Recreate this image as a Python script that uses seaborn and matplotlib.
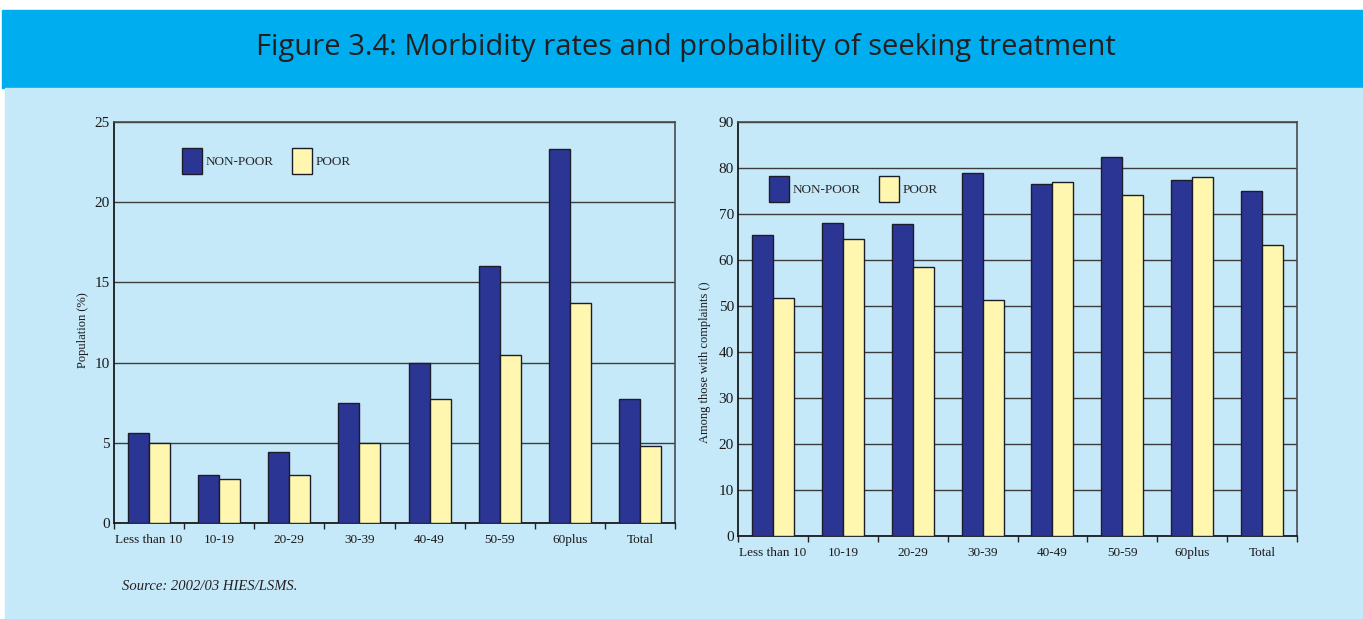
import numpy as np
import pandas as pd
import seaborn as sns
import matplotlib.pyplot as plt
from matplotlib.patches import Rectangle, Patch
from matplotlib.ticker import FixedLocator

# ---- data ----
age_groups = ['Less than 10', '10-19', '20-29', '30-39', '40-49', '50-59', '60plus', 'Total']
groups = ['NON-POOR', 'POOR']

morbidity_nonpoor = [5.6, 3.0, 4.4, 7.5, 10.0, 16.0, 23.3, 7.7]
morbidity_poor = [5.0, 2.75, 3.0, 5.0, 7.7, 10.5, 13.7, 4.8]

treatment_nonpoor = [65.5, 68.0, 67.8, 79.0, 76.6, 82.4, 77.3, 75.1]
treatment_poor = [51.8, 64.6, 58.5, 51.4, 77.0, 74.2, 78.1, 63.3]

navy = '#2b3594'
yellow = '#fff7b0'
panel_bg = '#c6e9fa'
header_bg = '#00aeef'

sns.set_theme(style='white')
plt.rcParams['font.family'] = ['Liberation Serif', 'DejaVu Sans']


def long_form(nonpoor, poor):
    return pd.DataFrame({
        'age': age_groups * 2,
        'group': [groups[0]] * len(age_groups) + [groups[1]] * len(age_groups),
        'value': list(nonpoor) + list(poor),
    })


fig = plt.figure(figsize=(13.63, 6.19), dpi=100)
fig.patch.set_facecolor('white')

# header band and light panel (behind the axes)
fig.patches.append(Rectangle((2 / 1363, 1 - 88 / 619), 1, 78 / 619,
                             transform=fig.transFigure, color=header_bg, zorder=-10))
fig.patches.append(Rectangle((5 / 1363, 0), 1, 1 - 88 / 619,
                             transform=fig.transFigure, color=panel_bg, zorder=-10))
fig.text(0.503, 1 - 48 / 619, 'Figure 3.4: Morbidity rates and probability of seeking treatment',
         ha='center', va='center', fontsize=21, color='#231f20', family=['Open Sans', 'DejaVu Sans'])

ax1 = fig.add_axes([114 / 1363, 1 - 523 / 619, 561 / 1363, 401 / 619])
ax2 = fig.add_axes([738 / 1363, 1 - 536 / 619, 559 / 1363, 414 / 619])


def draw(ax, nonpoor, poor, ymax, step, ylabel, label_xy, leg_xy):
    df = long_form(nonpoor, poor)
    sns.barplot(data=df, x='age', y='value', hue='group', palette=[navy, yellow], saturation=1,
                width=0.6, edgecolor='#1c1c2a', linewidth=1.0, ax=ax, legend=False, zorder=3)
    ax.set_facecolor(panel_bg)
    ax.set_xlim(-0.5, len(age_groups) - 0.5)
    ax.set_ylim(0, ymax)
    ax.set_yticks(np.arange(0, ymax + 1, step))
    ax.yaxis.grid(True, color='#3c3c3c', linewidth=1.0, zorder=0)
    ax.set_axisbelow(True)
    ax.xaxis.set_minor_locator(FixedLocator(np.arange(-0.5, len(age_groups), 1.0)))
    ax.tick_params(axis='x', which='major', length=0, pad=8, labelsize=9.5)
    ax.tick_params(axis='x', which='minor', length=4, width=1, color='#222222', direction='out', bottom=True)
    ax.tick_params(axis='y', length=0, pad=3, labelsize=11)
    for lab in ax.get_xticklabels() + ax.get_yticklabels():
        lab.set_color('#1a1a1a')
    ax.set_xlabel('')
    ax.set_ylabel(ylabel, fontsize=9, color='#1a1a1a')
    ax.yaxis.set_label_coords(*label_xy)
    for side in ['left', 'bottom']:
        ax.spines[side].set_color('#1a1a1a')
        ax.spines[side].set_linewidth(1.3)
    for side in ['top', 'right']:
        ax.spines[side].set_color('#4a4a4a')
        ax.spines[side].set_linewidth(1.2)
    handles = [Patch(facecolor=navy, edgecolor='#1c1c2a'), Patch(facecolor=yellow, edgecolor='#1c1c2a')]
    ax.legend(handles, groups, loc='upper left', bbox_to_anchor=leg_xy, ncol=2, frameon=False,
              fontsize=9.5, handlelength=1.5, handleheight=2.7, handletextpad=0.3,
              columnspacing=1.4, borderpad=0, borderaxespad=0)


draw(ax1, morbidity_nonpoor, morbidity_poor, 25, 5, 'Population (%)', (-0.045, 0.48), (0.121, 0.935))
draw(ax2, treatment_nonpoor, treatment_poor, 90, 10, 'Among those with complaints ()', (-0.048, 0.42), (0.055, 0.87))

fig.text(122 / 1363, 1 - 586 / 619, 'Source: 2002/03 HIES/LSMS.', fontsize=10.5,
         style='italic', color='#231f20', ha='left', va='center')

fig.savefig('out.png', dpi=100)
